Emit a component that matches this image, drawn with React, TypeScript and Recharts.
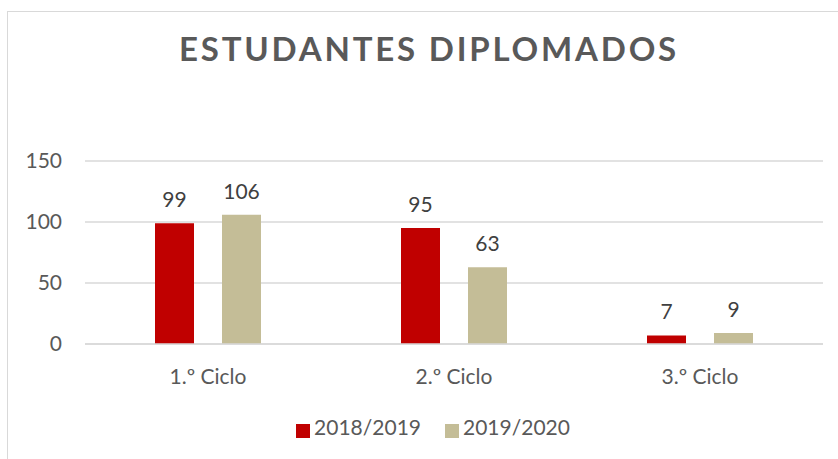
import React from "react";
import { BarChart, Bar, XAxis, YAxis, CartesianGrid, Legend, LabelList } from "recharts";

const categories = ["1.º Ciclo", "2.º Ciclo", "3.º Ciclo"];
const series2018 = [99, 95, 7];
const series2019 = [106, 63, 9];
const yTicks = [0, 50, 100, 150];
const seriesNames = ["2018/2019", "2019/2020"];

const data = categories.map((c, i) => ({ name: c, a: series2018[i], b: series2019[i] }));

const FONT = "Lato, 'Open Sans', sans-serif";

export default function App() {
  return (
    <div style={{ position: "absolute", left: 0, top: 0, width: 838, height: 459, background: "#fff", fontFamily: FONT }}>
      <div style={{ position: "absolute", left: 7, top: 11, width: 831, height: 448, borderLeft: "1.5px solid #d9d9d9", borderTop: "1.5px solid #d9d9d9" }} />
      <div style={{ position: "absolute", left: 0, top: 28, width: 858, textAlign: "center", fontSize: 33, fontWeight: 700, color: "#595959", letterSpacing: 2.8, fontFamily: FONT }}>
        ESTUDANTES DIPLOMADOS
      </div>
      <BarChart
        width={838}
        height={459}
        data={data}
        margin={{ top: 161, right: 15, bottom: 60, left: 0 }}
        barCategoryGap={70}
        barGap={28}
        style={{ position: "absolute", left: 0, top: 0 }}
      >
        <CartesianGrid vertical={false} stroke="#d9d9d9" strokeWidth={1.5} />
        <XAxis
          dataKey="name"
          axisLine={{ stroke: "#d9d9d9", strokeWidth: 1.5 }}
          tickLine={false}
          tick={{ fill: "#595959", fontSize: 21, fontFamily: FONT }}
          tickMargin={19}
        />
        <YAxis
          width={85}
          domain={[0, 150]}
          ticks={yTicks}
          axisLine={false}
          tickLine={false}
          tick={{ fill: "#595959", fontSize: 21, fontFamily: FONT }}
          tickMargin={17}
        />
        <Legend
          iconType="square"
          iconSize={14}
          formatter={(v) => <span style={{ color: "#595959", fontSize: 21, fontFamily: FONT, marginRight: 14 }}>{v}</span>}
          wrapperStyle={{ fontFamily: FONT, top: 414, left: 26, width: 838 }}
        />
        <Bar dataKey="a" name={seriesNames[0]} fill="#C00000" barSize={39} isAnimationActive={false}>
          <LabelList dataKey="a" position="top" offset={16} fill="#404040" fontSize={21} fontFamily={FONT} />
        </Bar>
        <Bar dataKey="b" name={seriesNames[1]} fill="#C4BD97" barSize={39} isAnimationActive={false}>
          <LabelList dataKey="b" position="top" offset={16} fill="#404040" fontSize={21} fontFamily={FONT} />
        </Bar>
      </BarChart>
    </div>
  );
}
